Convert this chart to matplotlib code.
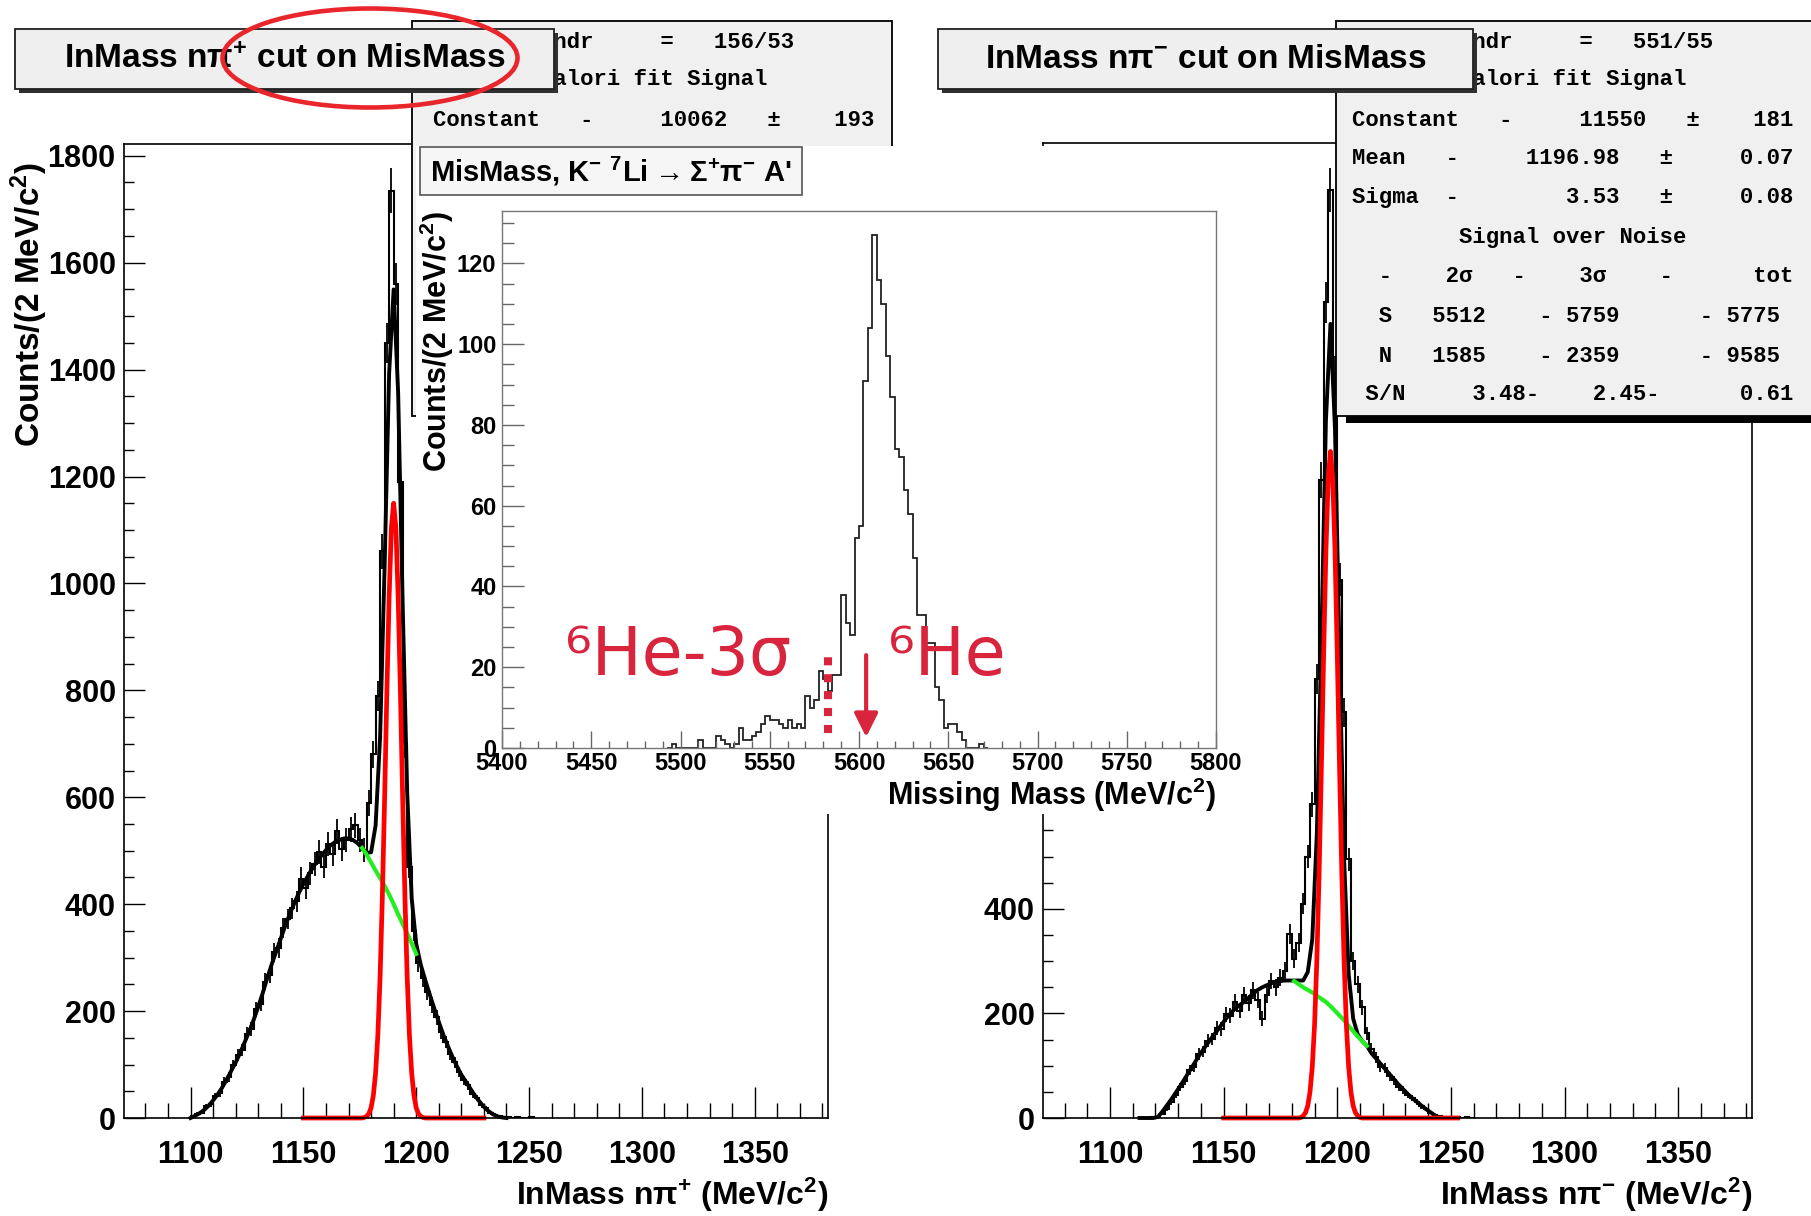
import numpy as np
import matplotlib
matplotlib.use("Agg")
import matplotlib.pyplot as plt
from matplotlib.patches import Rectangle, Ellipse
from matplotlib.ticker import MultipleLocator, FuncFormatter

SANS = ["Liberation Sans", "DejaVu Sans"]
MONO = ["Liberation Mono", "DejaVu Sans Mono"]
plt.rcParams["font.family"] = SANS
plt.rcParams["font.weight"] = "bold"
plt.rcParams["mathtext.default"] = "regular"

# --- InMass n pi+ (left panel), 2 MeV bins from 1100 ---
left_edges = np.arange(1100, 1254, 2)
left_counts = [4, 8, 10, 22, 26, 41, 47, 68, 77, 99,
               118, 128, 158, 167, 203, 214, 255, 268, 310, 318,
               355, 372, 392, 405, 448, 430, 458, 475, 497, 470,
               512, 494, 536, 503, 520, 540, 548, 520, 502, 590,
               680, 790, 1060, 1450, 1735, 1560, 1190, 700, 470, 350,
               290, 262, 236, 211, 188, 160, 142, 119, 104, 86,
               71, 61, 45, 37, 24, 18, 9, 6, 3, 2,
               1, 0, 2, 0, 0, 1]
left_fit_x = np.arange(1100, 1242, 2)
left_fit = [0, 4, 9, 15, 23, 33, 44, 57, 72, 88,
            104, 122, 142, 162, 184, 208, 234, 262, 288, 312,
            336, 360, 382, 402, 421, 438, 453, 467, 480, 491,
            501, 510, 516, 520, 523, 523, 520, 514, 505, 496,
            497, 547, 713, 1032, 1393, 1550, 1356, 961, 609, 411,
            326, 287, 258, 231, 205, 180, 156, 135, 115, 97,
            81, 68, 55, 42, 31, 21, 13, 7, 3, 1, 0]
left_bkg_x = np.arange(1176, 1202, 2)
left_bkg = [505, 493, 478, 463, 449, 434, 418, 400, 381, 363, 345, 327, 307]
left_sig_x = [1150] + list(range(1176, 1205)) + [1230]
left_sig = [0, 0, 1, 3, 8, 19, 42, 84, 155, 264, 415, 598, 797, 975, 1104, 1150,
            1104, 975, 797, 598, 415, 264, 155, 84, 42, 19, 8, 3, 1, 0, 0]

# --- InMass n pi- (right panel) ---
right_edges = np.arange(1112, 1262, 2)
right_counts = [0, 0, 0, 1, 2, 8, 17, 30, 44, 60,
                71, 91, 98, 122, 127, 148, 151, 172, 170, 198,
                196, 222, 205, 236, 220, 244, 226, 190, 236, 262,
                250, 268, 282, 352, 305, 335, 410, 500, 600, 840,
                1220, 1560, 1775, 1420, 1030, 776, 495, 300, 256, 212,
                162, 132, 116, 98, 96, 80, 72, 60, 54, 44,
                38, 30, 22, 17, 10, 6, 3, 2, 1, 1,
                2, 0, 1, 0]
right_fit_x = np.arange(1113, 1249, 2)
right_fit = [0, 0, 0, 0, 2, 12, 24, 36, 49, 62,
             76, 90, 104, 118, 131, 143, 155, 166, 178, 190,
             200, 209, 216, 222, 230, 238, 245, 250, 254, 258,
             260, 262, 263, 263, 263, 263, 263, 279, 342, 543,
             915, 1334, 1519, 1317, 883, 495, 276, 190, 160, 147,
             138, 124, 114, 104, 94, 84, 74, 64, 55, 46,
             38, 31, 24, 17, 11, 5, 1, 0]
right_bkg_x = np.arange(1181, 1215, 2)
right_bkg = [262, 256, 250, 245, 240, 234, 228, 222, 214, 205, 196, 187, 176, 166, 156, 147, 138]
right_sig_x = [1150] + list(range(1183, 1212)) + [1253]
right_sig = [0, 0, 1, 4, 10, 23, 50, 98, 178, 300, 467, 670, 887, 1084, 1223, 1275,
             1223, 1084, 887, 670, 467, 300, 178, 98, 50, 23, 10, 4, 1, 0, 0]

# --- MisMass K- 7Li -> Sigma+ pi- A' ---
mm_edges = np.arange(5492.5, 5675, 2.5)
mm_counts = [0, 1, 0, 0, 0, 0, 0, 2, 0, 0,
             0, 3, 2, 1, 0, 1, 5, 2, 2, 3,
             4, 6, 8, 7, 7, 6, 5, 7, 5, 6,
             5, 13, 10, 12, 19, 17, 14, 18, 18, 38,
             31, 28, 52, 55, 91, 104, 127, 116, 110, 97,
             87, 74, 72, 64, 58, 47, 33, 33, 26, 26,
             15, 12, 5, 6, 6, 4, 2, 0, 0, 0,
             1, 0]
he6_minus_3sigma = 5582.5
he6_mass = 5604

# --- stat boxes ---
stats_left = ["    Chi2/ndr     =   156/53",
              "        Valori fit Signal",
              "Constant   -     10062   \u00b1    193"]
stats_right = ["    Chi2/ndr     =   551/55",
               "        Valori fit Signal",
               "Constant   -     11550   \u00b1    181",
               "Mean   -     1196.98   \u00b1     0.07",
               "Sigma  -        3.53   \u00b1     0.08",
               "        Signal over Noise",
               "  -    2\u03c3   -    3\u03c3    -      tot",
               "  S   5512    - 5759      - 5775",
               "  N   1585    - 2359      - 9585",
               " S/N     3.48-    2.45-      0.61"]

W, H = 1811, 1216
fig = plt.figure(figsize=(W / 100, H / 100), dpi=100)


def px_axes(x0, y0, x1, y1, z=1):
    return fig.add_axes([x0 / W, 1 - y1 / H, (x1 - x0) / W, (y1 - y0) / H], zorder=z)


def overlay(z):
    ax = fig.add_axes([0, 0, 1, 1], zorder=z)
    ax.set_xlim(0, W)
    ax.set_ylim(H, 0)
    ax.axis("off")
    return ax


def inmass_panel(box, ylim, edges, counts, fit_x, fit, bkg_x, bkg, sig_x, sig, ylab_max=None):
    ax = px_axes(*box)
    counts = np.asarray(counts, dtype=float)
    centers = 0.5 * (edges[:-1] + edges[1:])
    ax.stairs(counts, edges, color="k", lw=1.5)
    ax.errorbar(centers, counts, yerr=np.sqrt(counts), fmt="none", ecolor="k", elinewidth=1.3)
    ax.plot(fit_x, fit, color="k", lw=2.8, clip_on=False)
    ax.plot(bkg_x, bkg, color="#22ee22", lw=3, clip_on=False)
    ax.plot(sig_x, sig, color="#ff0000", lw=3.4, clip_on=False)
    ax.set_xlim(1070.5, 1382.5)
    ax.set_ylim(*ylim)
    ax.xaxis.set_major_locator(MultipleLocator(50))
    ax.xaxis.set_minor_locator(MultipleLocator(10))
    ax.yaxis.set_major_locator(MultipleLocator(200))
    ax.yaxis.set_minor_locator(MultipleLocator(50))
    if ylab_max is not None:
        # labels above this sit under the inset anyway
        ax.yaxis.set_major_formatter(FuncFormatter(lambda v, p: f"{v:.0f}" if v <= ylab_max else ""))
    ax.tick_params(axis="x", which="major", direction="in", length=22, width=1, pad=16, labelsize=22)
    ax.tick_params(axis="x", which="minor", direction="in", length=11, width=1)
    ax.tick_params(axis="y", which="major", direction="in", length=15, width=1, pad=6, labelsize=22)
    ax.tick_params(axis="y", which="minor", direction="in", length=7.5, width=1)
    for s in ax.spines.values():
        s.set_linewidth(1.2)
    return ax


inmass_panel((124, 144, 828, 1118), (0, 1822), left_edges, left_counts,
             left_fit_x, left_fit, left_bkg_x, left_bkg, left_sig_x, left_sig)
inmass_panel((1043, 143, 1752, 1118), (0, 1865), right_edges, right_counts,
             right_fit_x, right_fit, right_bkg_x, right_bkg, right_sig_x, right_sig, ylab_max=400)

# --- stat boxes and axis titles ---
lay = overlay(2)
lay.add_patch(Rectangle((412, 21), 480, 395, fc="#f0f0f0", ec="k", lw=1.3))
lay.add_patch(Rectangle((1346, 30), 500, 393, fc="k", ec="none"))
lay.add_patch(Rectangle((1336, 21), 500, 395, fc="#f0f0f0", ec="k", lw=1.3))
row_y = [43, 79, 120, 159, 198, 237, 276, 316, 356, 395]
for x0, rows in [(433, stats_left), (1352, stats_right)]:
    for y, row in zip(row_y, rows):
        lay.text(x0, y, row, family=MONO, fontweight="bold", fontsize=16, ha="left", va="center")

lay.text(828, 1195, "InMass n\u03c0$^{+}$ (MeV/c$^{2}$)", ha="right", va="center", fontsize=23)
lay.text(1752, 1195, "InMass n\u03c0$^{-}$ (MeV/c$^{2}$)", ha="right", va="center", fontsize=23)
lay.text(29, 162, "Counts/(2 MeV/c$^{2}$)", rotation=90, ha="center", va="top", fontsize=24)

# --- title boxes ---
tl = overlay(3)
for x0, x1, label in [(15, 554, "InMass n\u03c0$^{+}$ cut on MisMass"),
                      (938, 1473, "InMass n\u03c0$^{-}$ cut on MisMass")]:
    tl.add_patch(Rectangle((x0 + 4, 33), x1 - x0, 60, fc="#303030", ec="none"))
    tl.add_patch(Rectangle((x0, 29), x1 - x0, 60, fc="#efefef", ec="#202020", lw=1.3))
    tl.text((x0 + x1) / 2, 59, label, ha="center", va="center", fontsize=24)

# --- missing mass inset ---
bg = overlay(4)
bg.add_patch(Rectangle((416, 146), 811, 668, fc="white", ec="none"))
bg.add_patch(Rectangle((420, 147), 382, 48, fc="#f6f6f6", ec="#555555", lw=1.2))
bg.text(611, 171, "MisMass, K$^{-}$ $^{7}$Li$\\rightarrow$\u03a3$^{+}$\u03c0$^{-}$ A'",
        ha="center", va="center", fontsize=21)
bg.text(1216, 795, "Missing Mass (MeV/c$^{2}$)", ha="right", va="center", fontsize=22)
bg.text(437, 211, "Counts/(2 MeV/c$^{2}$)", rotation=90, ha="center", va="top", fontsize=22)

ins = px_axes(502, 211, 1216, 748, z=5)
ins.stairs(mm_counts, mm_edges, color="#222222", lw=1.3)
ins.set_xlim(5400, 5800)
ins.set_ylim(0, 133)
ins.xaxis.set_major_locator(MultipleLocator(50))
ins.xaxis.set_minor_locator(MultipleLocator(10))
ins.yaxis.set_major_locator(MultipleLocator(20))
ins.yaxis.set_minor_locator(MultipleLocator(5))
ins.tick_params(axis="x", which="major", direction="in", length=12, width=1, color="#666666", pad=3, labelsize=17)
ins.tick_params(axis="x", which="minor", direction="in", length=5, width=1, color="#666666")
ins.tick_params(axis="y", which="major", direction="in", length=16, width=1, color="#666666", pad=4, labelsize=17)
ins.tick_params(axis="y", which="minor", direction="in", length=8.5, width=1, color="#666666")
for s in ins.spines.values():
    s.set_linewidth(1.0)
    s.set_color("#777777")

RED = "#d8243c"
ins.plot([he6_minus_3sigma, he6_minus_3sigma], [3.8, 23], color=RED, lw=5.8,
         linestyle=(0, (1, 1.1)))
ins.annotate("", xy=(he6_mass, 2.7), xytext=(he6_mass, 23),
             arrowprops=dict(arrowstyle="-|>", color=RED, lw=3, mutation_scale=36,
                             shrinkA=0, shrinkB=0))
ins.text(5435.5, 18, "\u2076He-3\u03c3", color=RED, fontsize=48, fontweight="normal",
         family=["DejaVu Sans"], ha="left", va="baseline")
ins.text(5616, 18, "\u2076He", color=RED, fontsize=48, fontweight="normal",
         family=["DejaVu Sans"], ha="left", va="baseline")

# --- highlight on the left title ---
top = overlay(6)
top.add_patch(Ellipse((370, 58), 295, 99, fill=False, ec="#e8262c", lw=3.3))

fig.savefig("out.png", dpi=100)
